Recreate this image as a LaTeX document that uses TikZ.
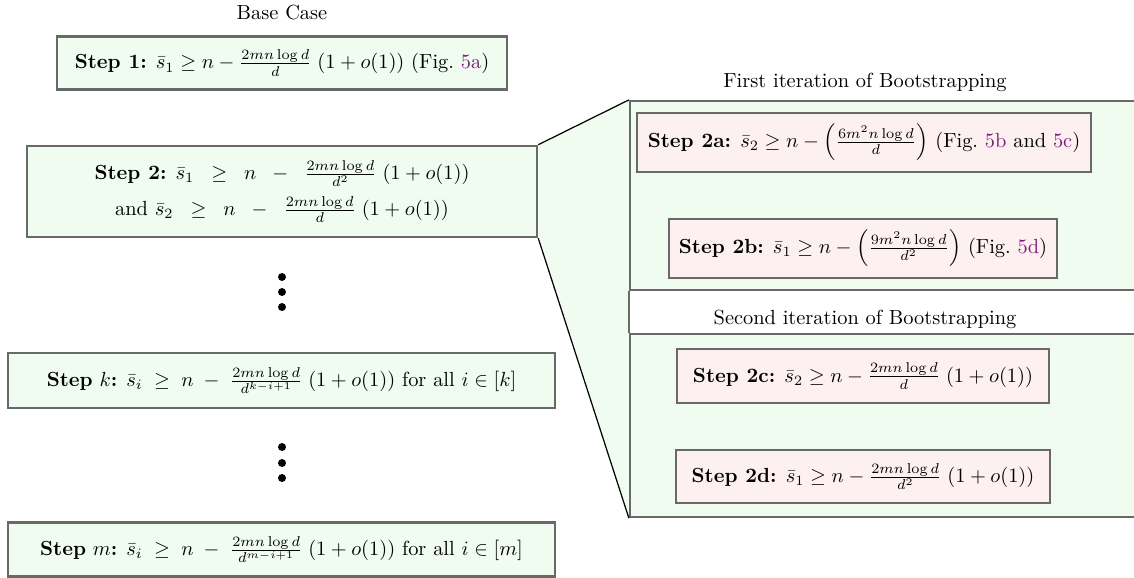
\documentclass[tikz,border=0pt]{standalone}
\usepackage{amsmath}
\definecolor{boxgreen}{RGB}{240,252,240}
\definecolor{boxpink}{RGB}{253,240,240}
\definecolor{boxgray}{RGB}{105,105,105}
\definecolor{figlink}{RGB}{125,30,125}
\newcommand{\fref}[1]{\textcolor{figlink}{#1}}
\begin{document}
\begin{tikzpicture}[x=0.49pt,y=-0.49pt,
  wh/.style 2 args={minimum width=#1*0.49pt, minimum height=#2*0.49pt},
  greenbox/.style={draw=boxgray, line width=1.25pt, fill=boxgreen, inner sep=0pt, align=center},
  pinkbox/.style={draw=boxgray, line width=1.0pt, fill=boxpink, inner sep=0pt, align=center},
  panelbox/.style={draw=boxgray, line width=1.1pt, fill=boxgreen, inner sep=0pt},
  caption/.style={inner sep=0pt},
  dotmark/.style={circle, fill=black, minimum size=3.9pt, inner sep=0pt},
  funnel/.style={black, line width=0.6pt}]
\useasboundingbox (0,0) rectangle (1134,577);

% right panels
\node[panelbox, wh={510}{189}] (panelA) at (885,195.5) {};
\node[panelbox, wh={510}{183}] (panelB) at (885,425.5) {};

% left column
\node[caption] (base) at (282,13) {Base Case};
\node[greenbox, wh={450}{53}] (s1) at (282,63)
  {\textbf{Step 1:} $\bar{s}_1 \geq n - \frac{2mn\log d}{d}\;(1+o(1))$ (Fig.~\fref{5a})};
\node[greenbox, wh={510}{91}] (s2) at (282,191.5)
  {\textbf{Step 2:} $\bar{s}_1 \;\;\geq\;\; n \;\;-\;\; \frac{2mn\log d}{d^2}\;(1+o(1))$\\[3.5pt]
   and $\bar{s}_2 \;\;\geq\;\; n \;\;-\;\; \frac{2mn\log d}{d}\;(1+o(1))$};

% funnel
\fill[boxgreen] (s2.north east) -- (panelA.north west) -- (panelB.south west) -- (s2.south east) -- cycle;
\draw[funnel] (s2.north east) -- (panelA.north west);
\draw[funnel] (s2.south east) -- (panelB.south west);
\draw[draw=boxgray, line width=1.1pt] (panelA.south west) -- (panelB.north west);

\node[dotmark] (d1a) at (282,277) {};
\node[dotmark] (d1b) at (282,292) {};
\node[dotmark] (d1c) at (282,307) {};

\node[greenbox, wh={547}{55}] (sk) at (281.5,380.5)
  {\textbf{Step} $k$\textbf{:} $\bar{s}_i \;\geq\; n \;-\; \frac{2mn\log d}{d^{k-i+1}}\;(1+o(1))$ for all $i \in [k]$};

\node[dotmark] (d2a) at (282,447) {};
\node[dotmark] (d2b) at (282,463) {};
\node[dotmark] (d2c) at (282,478) {};

\node[greenbox, wh={547}{54}] (sm) at (281.5,549.5)
  {\textbf{Step} $m$\textbf{:} $\bar{s}_i \;\geq\; n \;-\; \frac{2mn\log d}{d^{m-i+1}}\;(1+o(1))$ for all $i \in [m]$};

% right content
\node[caption] (t1) at (865,82) {First iteration of Bootstrapping};
\node[pinkbox, wh={454}{59}] (s2a) at (864,142.5)
  {\textbf{Step 2a:} $\bar{s}_2 \geq n - \left(\frac{6m^2n\log d}{d}\right)$ (Fig.~\fref{5b} and \fref{5c})};
\node[pinkbox, wh={388}{59}] (s2b) at (863,248.5)
  {\textbf{Step 2b:} $\bar{s}_1 \geq n - \left(\frac{9m^2n\log d}{d^2}\right)$ (Fig.~\fref{5d})};
\node[caption] (t2) at (865,319) {Second iteration of Bootstrapping};
\node[pinkbox, wh={372}{54}] (s2c) at (863,376)
  {\textbf{Step 2c:} $\bar{s}_2 \geq n - \frac{2mn\log d}{d}\;(1+o(1))$};
\node[pinkbox, wh={374}{53}] (s2d) at (863,476.5)
  {\textbf{Step 2d:} $\bar{s}_1 \geq n - \frac{2mn\log d}{d^2}\;(1+o(1))$};
\end{tikzpicture}
\end{document}
